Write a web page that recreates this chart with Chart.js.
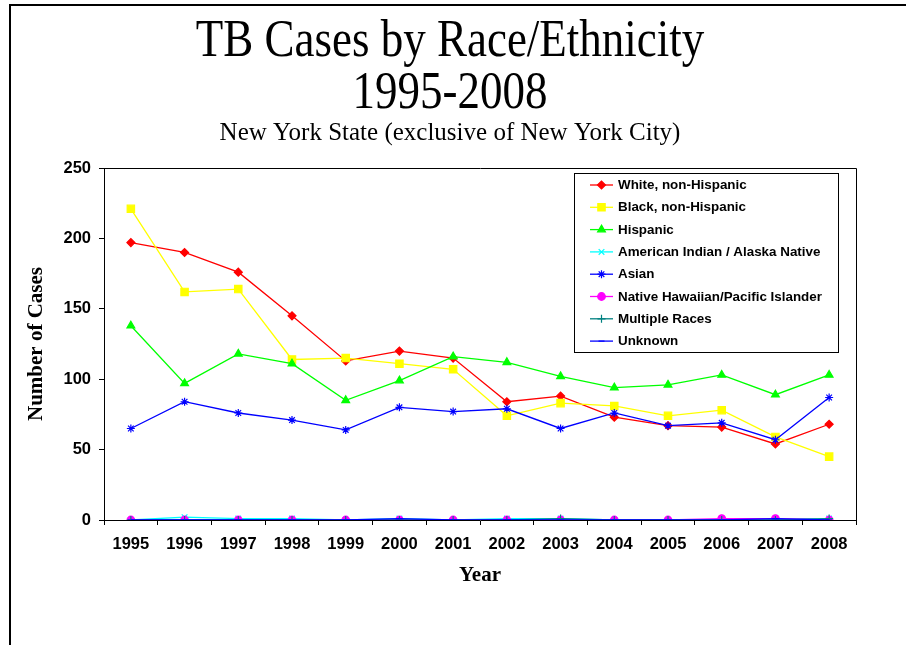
<!DOCTYPE html>
<html>
<head>
<meta charset="utf-8">
<script src="https://cdn.jsdelivr.net/npm/chart.js@4.4.1/dist/chart.umd.min.js"></script>
<style>
html,body{margin:0;padding:0;background:#fff;}
canvas{display:block;}
</style>
</head>
<body>
<canvas id="c" width="906" height="645"></canvas>
<script>
// ---- data ----
const years = ['1995','1996','1997','1998','1999','2000','2001','2002','2003','2004','2005','2006','2007','2008'];
const white    = [197,190,176,145,113,120,115,84,88,73,67,66,54,68];
const black    = [221,162,164,114,115,111,107,74,83,81,74,78,59,45];
const hispanic = [138,97,118,111,85,99,116,112,102,94,96,103,89,103];
const amInd    = [0,2,1,1,0,1,0,1,1,0,0,0,0,1];
const asian    = [65,84,76,71,64,80,77,79,65,76,67,69,57,87];
const nhpi     = [0,0,0,0,0,0,0,0,0,0,0,1,1,0];
const multiple = [0,0,0,0,0,0,0,0,1,0,0,0,0,1];
const unknown  = [0,0,0,0,0,1,0,0,0,0,0,0,1,0];
const seriesNames = ['White, non-Hispanic','Black, non-Hispanic','Hispanic','American Indian / Alaska Native','Asian','Native Hawaiian/Pacific Islander','Multiple Races','Unknown'];
const yTicks = [0,50,100,150,200,250];
const titleLines = ['TB Cases by Race/Ethnicity','1995-2008'];
const subtitleText = 'New York State (exclusive of New York City)';
const xTitle = 'Year';
const yTitle = 'Number of Cases';

// ---- styles ----
const styles = [
  {color:'#FF0000', point:'rectRot', r:4},
  {color:'#FFFF00', point:'rect', r:5.2},
  {color:'#00FF00', point:'triangle', r:4.5},
  {color:'#00FFFF', point:'crossRot', r:4},
  {color:'#0000FF', point:'star', r:4},
  {color:'#FF00FF', point:'circle', r:3.8},
  {color:'#008080', point:'cross', r:4},
  {color:'#0000FF', point:'line', r:3}
];
const values = [white, black, hispanic, amInd, asian, nhpi, multiple, unknown];
const N = values.length;

const datasets = values.map((v,i)=>({
  label: seriesNames[i],
  data: v,
  borderColor: styles[i].color,
  backgroundColor: styles[i].color,
  pointBackgroundColor: styles[i].color,
  pointBorderColor: styles[i].color,
  pointStyle: styles[i].point,
  pointRadius: styles[i].r,
  pointBorderWidth: 1.2,
  borderWidth: 1.3,
  tension: 0,
  fill: false,
  order: N-1-i
}));

const decor = {
  id:'decor',
  beforeDraw(chart){
    const ctx = chart.ctx;
    ctx.save();
    ctx.fillStyle = '#fff';
    ctx.fillRect(0,0,chart.width,chart.height);
    ctx.restore();
  },
  afterDraw(chart){
    const ctx = chart.ctx;
    const ca = chart.chartArea;
    ctx.save();
    // page border (top & left)
    ctx.strokeStyle = '#000';
    ctx.lineWidth = 2;
    ctx.beginPath();
    ctx.moveTo(10, 645); ctx.lineTo(10, 5); ctx.lineTo(906, 5);
    ctx.stroke();
    // plot box top and right
    ctx.lineWidth = 1;
    ctx.beginPath();
    ctx.moveTo(Math.round(ca.left)+0.5, Math.round(ca.top)+0.5);
    ctx.lineTo(Math.round(ca.right)+0.5, Math.round(ca.top)+0.5);
    ctx.lineTo(Math.round(ca.right)+0.5, Math.round(ca.bottom)+0.5);
    ctx.stroke();
    // titles
    ctx.fillStyle = '#000';
    ctx.textAlign = 'center';
    ctx.textBaseline = 'alphabetic';
    ctx.font = '45px "Liberation Serif", "Times New Roman", serif';
    const tY = [56, 108];
    titleLines.forEach((t,i)=>{
      ctx.save();
      ctx.translate(450, tY[i]);
      ctx.scale(1, 1.18);
      ctx.fillText(t, 0, 0);
      ctx.restore();
    });
    ctx.font = '25px "Liberation Serif", "Times New Roman", serif';
    ctx.save();
    ctx.translate(450, 140);
    ctx.scale(1, 1.05);
    ctx.fillText(subtitleText, 0, 0);
    ctx.restore();
    // axis titles
    ctx.font = 'bold 21px "Liberation Serif", "Times New Roman", serif';
    ctx.textBaseline = 'middle';
    ctx.fillText(xTitle, (ca.left+ca.right)/2, 576);
    ctx.save();
    ctx.translate(37, (ca.top+ca.bottom)/2);
    ctx.rotate(-Math.PI/2);
    ctx.fillText(yTitle, 0, 0);
    ctx.restore();
    // legend box
    const lx = 574, ly = 173, lw = 264, lh = 179;
    ctx.fillStyle = '#fff';
    ctx.fillRect(lx, ly, lw, lh);
    ctx.strokeStyle = '#000';
    ctx.lineWidth = 1;
    ctx.strokeRect(lx+0.5, ly+0.5, lw, lh);
    ctx.font = 'bold 13.4px "Liberation Sans", Arial, sans-serif';
    ctx.textAlign = 'left';
    ctx.textBaseline = 'middle';
    chart.data.datasets.forEach((ds,i)=>{
      const y = 185 + i*22.3;
      ctx.strokeStyle = ds.borderColor;
      ctx.lineWidth = 1.3;
      ctx.beginPath();
      ctx.moveTo(590, y); ctx.lineTo(613, y);
      ctx.stroke();
      ctx.fillStyle = ds.pointBackgroundColor;
      ctx.strokeStyle = ds.pointBorderColor;
      ctx.lineWidth = 1.2;
      Chart.helpers.drawPoint(ctx, {pointStyle: ds.pointStyle, radius: ds.pointRadius, rotation: 0, borderWidth: 1.2}, 601.5, y);
      ctx.fillStyle = '#000';
      ctx.fillText(ds.label, 618, y+0.5);
    });
    ctx.restore();
  }
};

const tickFont = {family:'"Liberation Sans", Arial, sans-serif', size:16.5, weight:'bold'};

new Chart(document.getElementById('c'), {
  type:'line',
  data:{ labels: years, datasets },
  options:{
    responsive:false,
    animation:false,
    devicePixelRatio:1,
    layout:{ padding:{ left:10, top:168, right:50, bottom:0 } },
    plugins:{ legend:{display:false}, title:{display:false}, tooltip:{enabled:false} },
    scales:{
      x:{
        type:'category',
        offset:true,
        grid:{ display:true, drawOnChartArea:false, drawTicks:true, tickLength:5, color:'#000', offset:true },
        border:{ display:true, color:'#000', width:1 },
        ticks:{ color:'#000', font:tickFont, padding:10, maxRotation:0, autoSkip:false },
        afterFit(s){ s.height = 125; }
      },
      y:{
        min:0, max:250,
        afterBuildTicks(s){ s.ticks = yTicks.map(v=>({value:v})); },
        grid:{ display:true, drawOnChartArea:false, drawTicks:true, tickLength:5, color:'#000' },
        border:{ display:true, color:'#000', width:1 },
        ticks:{ color:'#000', font:tickFont, padding:8 },
        afterFit(s){ s.width = 94; }
      }
    }
  },
  plugins:[decor]
});
</script>
</body>
</html>
